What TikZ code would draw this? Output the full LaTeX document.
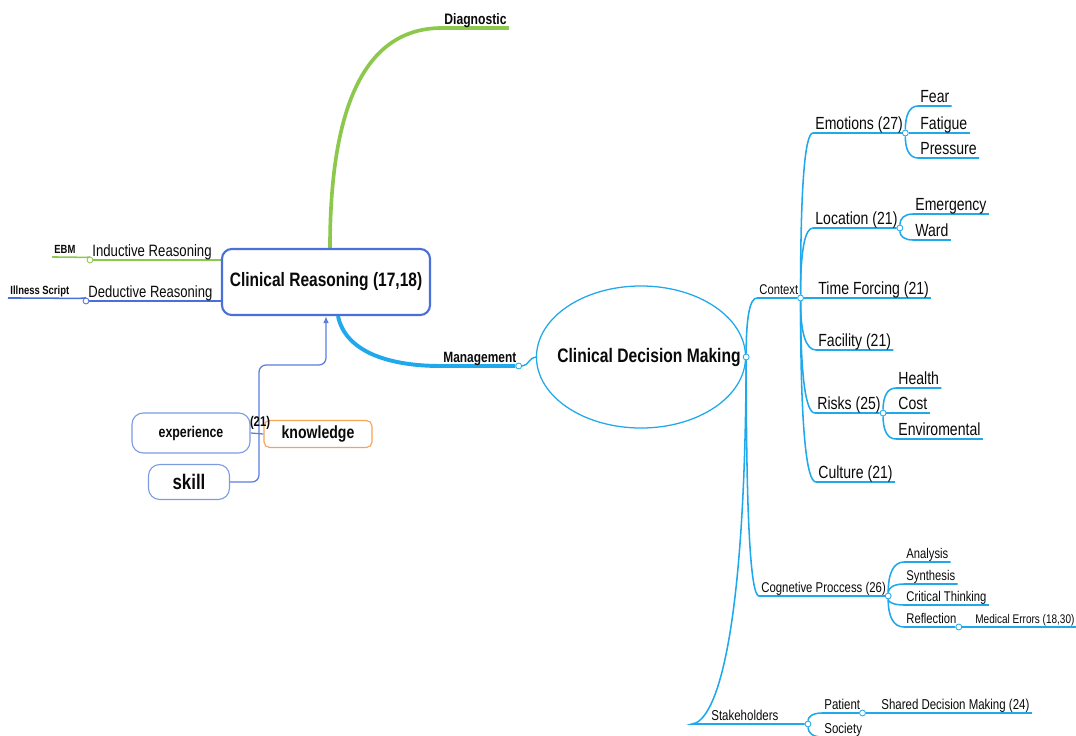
\documentclass[tikz,border=0pt]{standalone}
\usepackage{fontspec}
\setmainfont{Liberation Sans}[FakeStretch=0.8]
\usepackage{xcolor}
\definecolor{mapcyan}{HTML}{1FA9EC}
\definecolor{mapblue}{HTML}{4A6FD8}
\definecolor{mapgreen}{HTML}{8CC84B}
\definecolor{maporange}{HTML}{F5A25A}
\definecolor{lightblue}{HTML}{7C9BE2}
\definecolor{textdark}{HTML}{0A0A0A}
\usetikzlibrary{arrows.meta, positioning, shapes.geometric, calc, backgrounds}

\begin{document}
\begin{tikzpicture}[
  x=0.025cm, y=-0.025cm,
  fs/.style={font=\fontsize{#1}{#1}\selectfont},
  fsb/.style={font=\fontsize{#1}{#1}\selectfont\bfseries},
  lbl/.style={anchor=south west, inner xsep=1.5pt, inner ysep=0.5pt, text height=0.72em, text depth=0.15em, text=textdark},
  dot/.style={circle, draw=#1, fill=white, line width=0.6pt, inner sep=0pt, minimum size=4.2pt},
  br/.style={draw=mapcyan, line width=1.1pt},
  curvy/.style={to path={.. controls ($(\tikztostart)!0.667!(\tikztostart |- \tikztotarget)$) and ($(\tikztotarget)!0.667!(\tikztostart |- \tikztotarget)$) .. (\tikztotarget) \tikztonodes}},
  gline/.style={draw=mapgreen, line width=1.1pt},
  bline/.style={draw=mapblue, line width=1.1pt},
  kline/.style={draw=mapblue!90, line width=0.9pt, rounded corners=5pt},
  crbox/.style={draw=mapblue, line width=1.5pt, rounded corners=7pt, fill=white, text=textdark, minimum width=5.2cm, minimum height=1.65cm},
  skbox/.style={draw=lightblue, line width=0.8pt, rounded corners=8pt, fill=white, text=textdark},
]
\useasboundingbox (0,0) rectangle (1076,735);

% Left side: Clinical Reasoning
\node[crbox, fsb=13.8] (cr) at (326,282) {Clinical Reasoning (17,18)};
\node[lbl, fsb=10.8] (diag) at (442,28) {Diagnostic};
\node[lbl, fs=11.7] (ind) at (90,260) {Inductive Reasoning};
\node[lbl, fs=11.6] (ded) at (86,301) {Deductive Reasoning};
\node[lbl, fsb=8.4] (ebm) at (52,257) {EBM};
\node[lbl, fsb=8.4] (ill) at (8,298) {Illness Script};
\node[dot=mapgreen] (inddot) at (ind.south west) {};
\node[dot=mapblue] (deddot) at (ded.south west) {};

% experience, knowledge, skill
\node[skbox, minimum width=2.95cm, minimum height=1cm, fsb=11] (exp) at (191,433) {experience};
\node[skbox, draw=maporange, rounded corners=4pt, minimum width=2.7cm, minimum height=0.675cm, fsb=12.5] (know) at (318,434) {knowledge};
\node[skbox, minimum width=2.025cm, minimum height=0.875cm, fsb=15] (skill) at (189,482) {skill};
\node[fsb=10, inner sep=0pt, text=textdark] (num) at (260,423) {(21)};
\coordinate (bend) at (259,365);

% Middle: Management and Clinical Decision Making
\node[lbl, fsb=10.6] (mgmt) at (441,366) {Management};
\node[dot=mapcyan] (mgmtdot) at (mgmt.south east) {};
\node[ellipse, draw=mapcyan, line width=0.9pt, fill=white, text=textdark, minimum width=5.225cm, minimum height=3.55cm, fsb=13.9] (cdm) at (641,357) {\makebox[3cm]{\hspace*{0.4cm}Clinical Decision Making}};
\node[dot=mapcyan] (cdmdot) at (cdm.east) {};

% Right side: Context
\node[lbl, fs=10] (ctx) at (757,298) {Context};
\node[dot=mapcyan] (ctxdot) at (ctx.south east) {};
\node[lbl, fs=12.5] (emo) at (813,133) {Emotions (27)};
\node[dot=mapcyan] (emodot) at (emo.south east) {};
\node[lbl, fs=12.5] (fear) at (918,106) {Fear};
\node[lbl, fs=12.5] (fat) at (918,133) {Fatigue};
\node[lbl, fs=12.5] (pres) at (918,158) {Pressure};
\node[lbl, fs=12.5] (loc) at (813,228) {Location (21)};
\node[dot=mapcyan] (locdot) at (loc.south east) {};
\node[lbl, fs=12.5] (emer) at (913,214) {Emergency};
\node[lbl, fs=12.5] (ward) at (913,240) {Ward};
\node[lbl, fs=12.5] (time) at (816,298) {Time Forcing (21)};
\node[lbl, fs=12.5] (fac) at (816,350) {Facility (21)};
\node[lbl, fs=12.5] (risk) at (815,413) {Risks (25)};
\node[dot=mapcyan] (riskdot) at (risk.south east) {};
\node[lbl, fs=12.5] (health) at (896,388) {Health};
\node[lbl, fs=12.5] (cost) at (896,413) {Cost};
\node[lbl, fs=12.5] (env) at (896,439) {Enviromental};
\node[lbl, fs=12.5] (cult) at (816,482) {Culture (21)};

% Right side: Cognetive Proccess
\node[lbl, fs=10.1] (cog) at (759,596) {Cognetive Proccess (26)};
\node[dot=mapcyan] (cogdot) at (cog.south east) {};
\node[lbl, fs=10] (ana) at (904,562) {Analysis};
\node[lbl, fs=10] (syn) at (904,584) {Synthesis};
\node[lbl, fs=10] (crit) at (904,605) {Critical Thinking};
\node[lbl, fs=10] (refl) at (904,627) {Reflection};
\node[dot=mapcyan] (refldot) at (refl.south east) {};
\node[lbl, fs=8.9] (med) at (973,627) {Medical Errors (18,30)};

% Right side: Stakeholders
\node[lbl, fs=10.2] (stk) at (709,724) {Stakeholders};
\node[dot=mapcyan] (stkdot) at (808,724) {};
\node[lbl, fs=10.2] (pat) at (822,713) {Patient};
\node[dot=mapcyan] (patdot) at (pat.south east) {};
\node[lbl, fs=10.2] (soc) at (822,737) {Society};
\node[lbl, fs=10.2] (shared) at (879,713) {Shared Decision Making (24)};

\begin{scope}[on background layer]
% left branches
\draw[mapgreen, line width=2.6pt, curvy] ($(cr.north)+(4,0)$) to (diag.south west) -- (diag.south east);
\draw[gline] (cr.west |- ind.south) -- (inddot);
\draw[gline, curvy] (inddot) to (ebm.south west);
\draw[bline] (cr.west |- ded.south) -- (deddot);
\draw[bline, curvy] (deddot) to (ill.south west);
\draw[kline, -{Latex[length=5pt, width=4pt]}] (skill.east) -| (bend) -| (cr.south);
\draw[kline] (exp.east) -- (know.west);

% management
\draw[mapcyan, line width=2.8pt] ($(cr.south)+(12,0)$) .. controls (345,350) and (385,366) .. (mgmt.south west) -- (mgmtdot);
\draw[mapcyan, line width=1pt] (mgmtdot) to[out=0, in=180] (cdm.west);

% context
\draw[br, curvy] (cdmdot) to (ctx.south west) -- (ctxdot);
\draw[br, curvy] (ctxdot) to (emo.south west) -- (emodot);
\draw[br, curvy] (emodot) to (fear.south west) -- (fear.south east);
\draw[br] (emodot) -- (fat.south east);
\draw[br, curvy] (emodot) to (pres.south west) -- (pres.south east);
\draw[br, curvy] (ctxdot) to (loc.south west) -- (locdot);
\draw[br, curvy] (locdot) to (emer.south west) -- (emer.south east);
\draw[br, curvy] (locdot) to (ward.south west) -- (ward.south east);
\draw[br] (ctxdot) -- (time.south east);
\draw[br, curvy] (ctxdot) to (fac.south west) -- (fac.south east);
\draw[br, curvy] (ctxdot) to (risk.south west) -- (riskdot);
\draw[br, curvy] (riskdot) to (health.south west) -- (health.south east);
\draw[br] (riskdot) -- (cost.south east);
\draw[br, curvy] (riskdot) to (env.south west) -- (env.south east);
\draw[br, curvy] (ctxdot) to (cult.south west) -- (cult.south east);

% cognetive proccess
\draw[br, curvy] (cdmdot) to (cog.south west) -- (cogdot);
\draw[br, curvy] (cogdot) to (ana.south west) -- (ana.south east);
\draw[br, curvy] (cogdot) to (syn.south west) -- (syn.south east);
\draw[br, curvy] (cogdot) to (crit.south west) -- (crit.south east);
\draw[br, curvy] (cogdot) to (refl.south west) -- (refldot);
\draw[br] (refldot) -- (med.south east);

% stakeholders
\draw[br] (cdmdot) .. controls (745,660) and (712,722) .. ($(stk.south west)+(-17,0)$) -- (stkdot);
\draw[br, curvy] (stkdot) to (pat.south west) -- (patdot);
\draw[br, curvy] (stkdot) to (soc.south west) -- (soc.south east);
\draw[br] (patdot) -- (shared.south east);
\end{scope}

\end{tikzpicture}
\end{document}
